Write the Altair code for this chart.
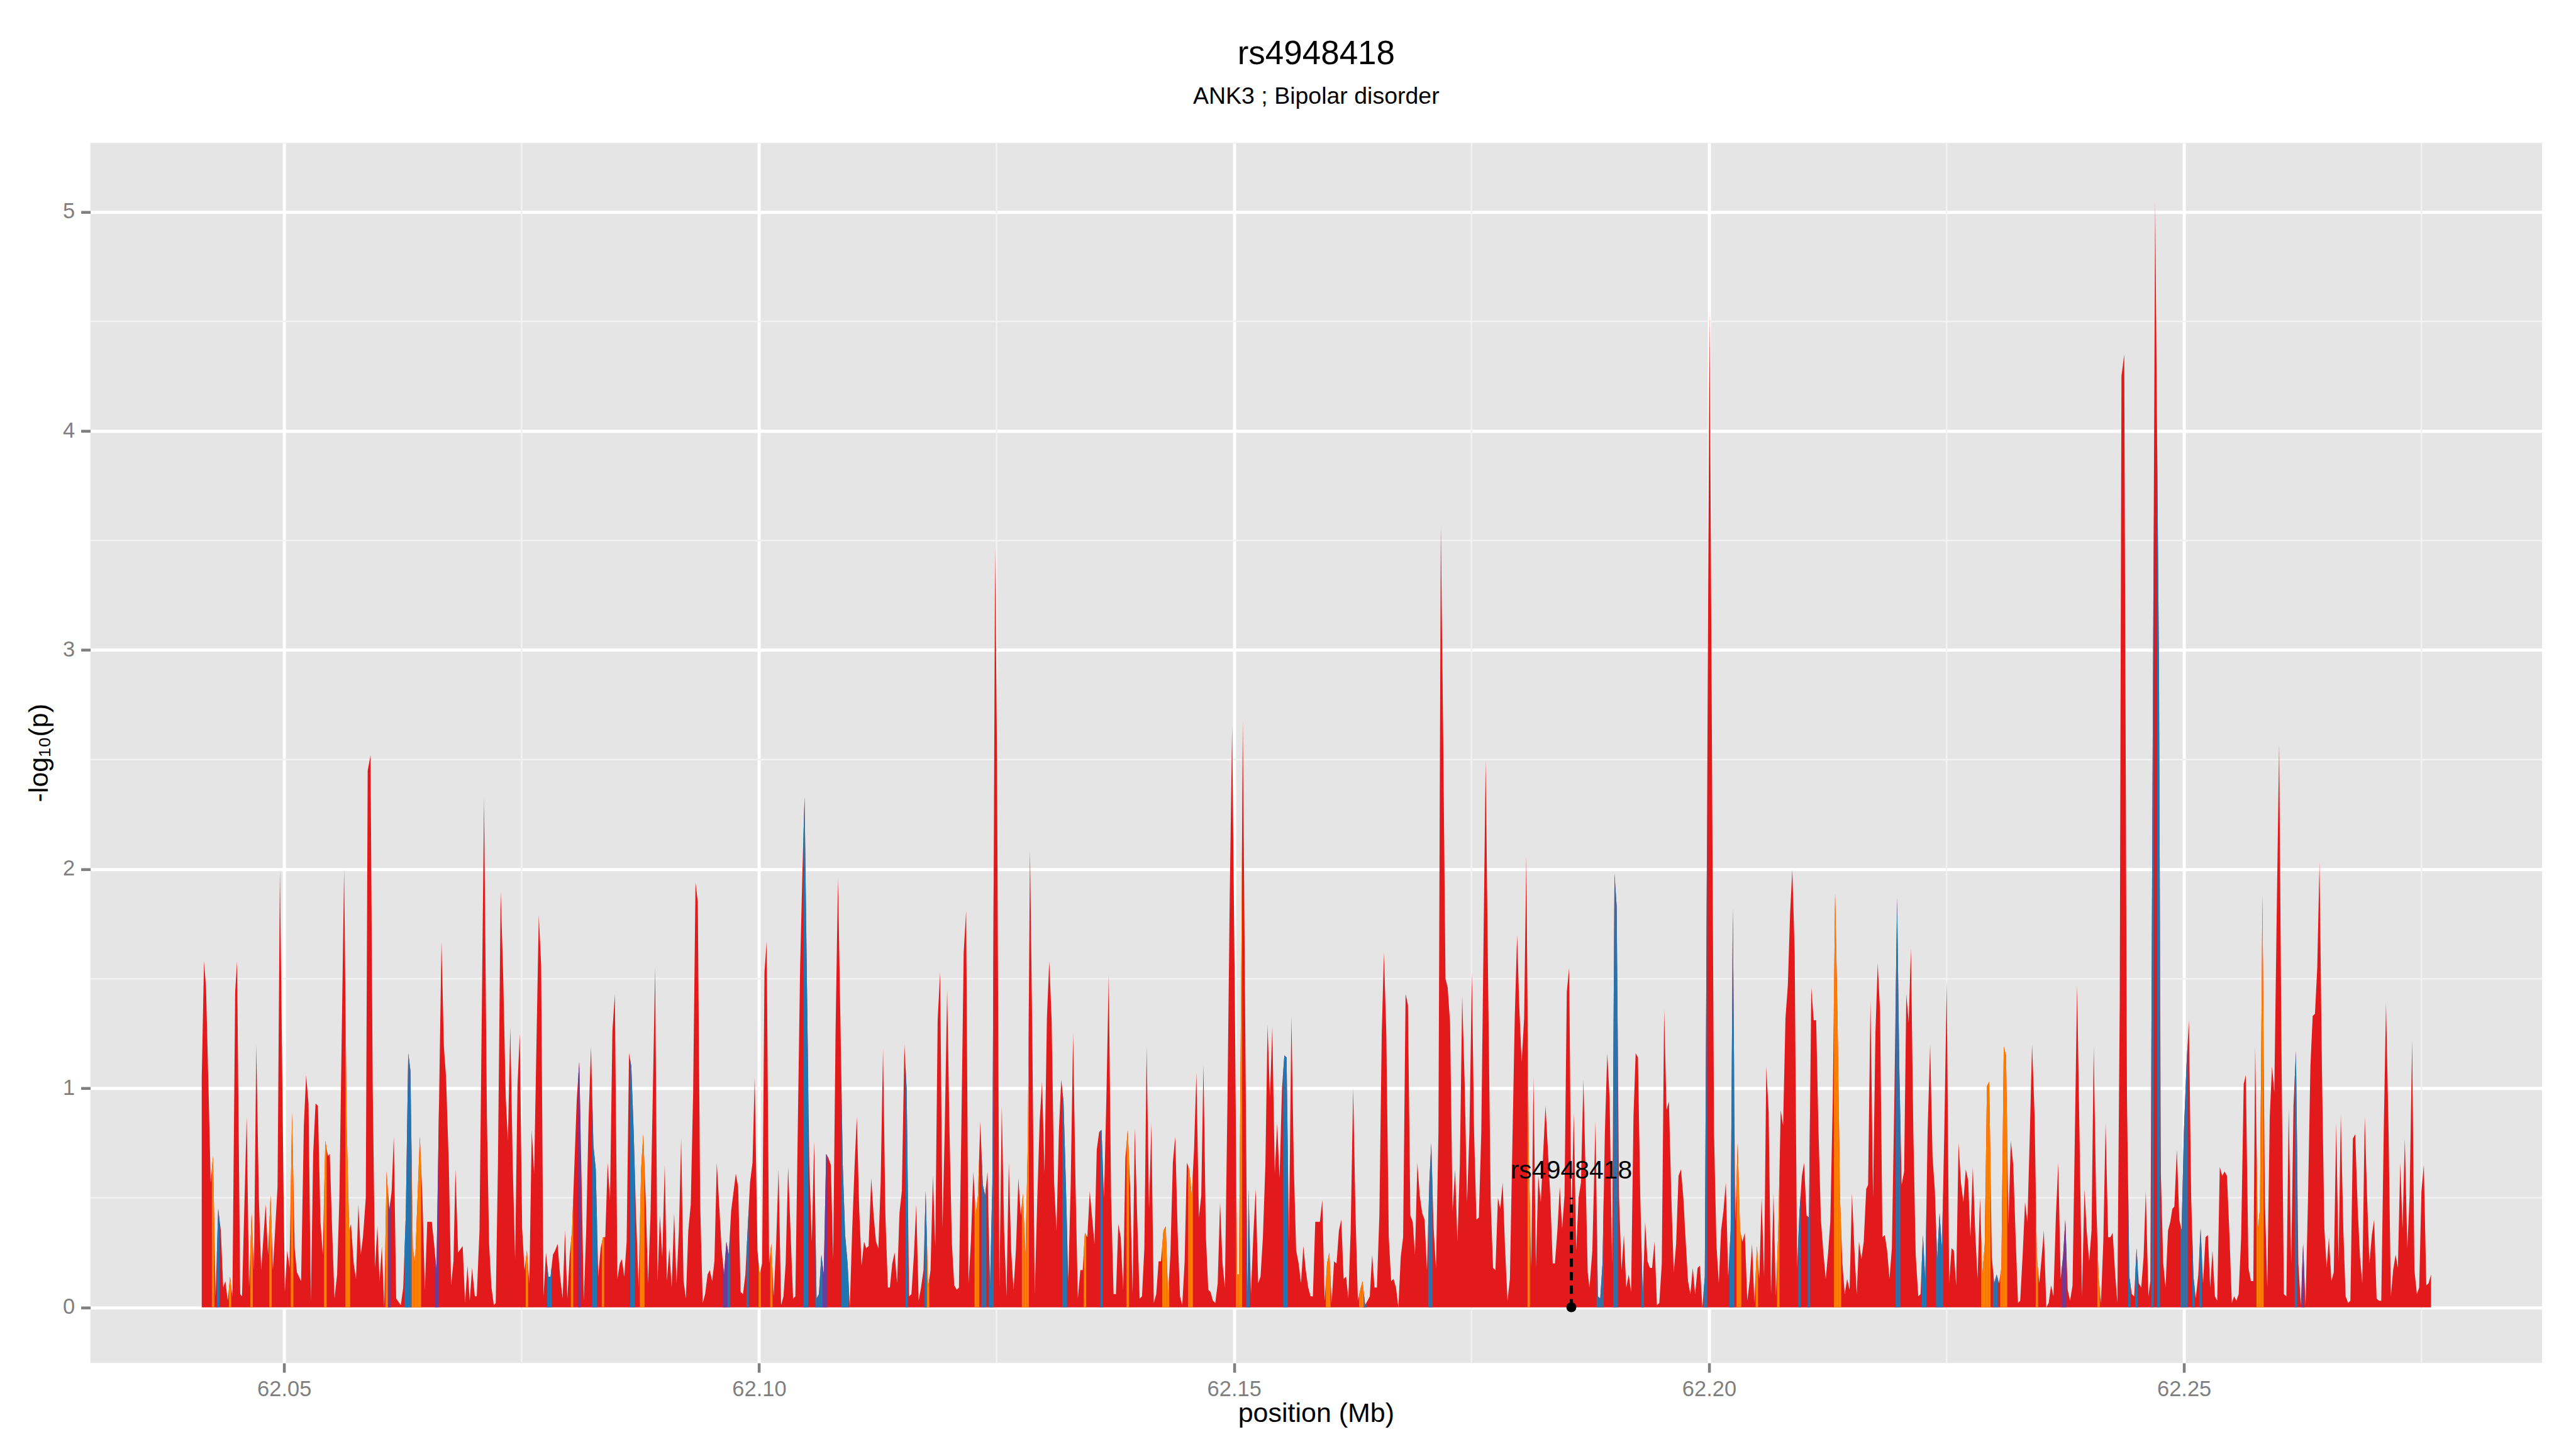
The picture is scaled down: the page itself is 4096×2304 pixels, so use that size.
import altair as alt
import pandas as pd

FONT = "Liberation Sans, Arial, Helvetica, sans-serif"

# ---------------- data (positions in kb above 62.000 Mb, values -log10 p) ----------------
pos_kb_a = [41.33, 41.57, 41.78, 42.07, 42.27, 42.52, 42.79, 43.06, 43.34, 43.59,
            43.82, 44.07, 44.31, 44.56, 44.85, 45.05, 45.38, 45.57, 46.06, 46.31,
            46.58, 46.83, 47.07, 47.34, 47.59, 48.06, 48.31, 48.58, 48.82, 49.31,
            49.56, 49.95, 50.08, 50.33, 50.57, 50.84, 51.11, 51.35, 51.79, 52.08,
            52.32, 52.57, 52.82, 53.06, 53.31, 53.56, 53.83, 54.07, 54.34, 54.61,
            54.81, 55.06, 55.31, 55.58, 55.82, 56.32, 56.59, 56.85, 57.04, 57.33,
            57.57, 57.82, 58.07, 58.30, 58.60, 58.80, 59.10, 59.33, 59.57, 59.82,
            60.05, 60.29, 60.54, 60.79, 61.07, 61.32, 61.55, 61.80, 62.29, 62.54,
            62.81, 63.07, 63.30, 63.55, 63.79, 64.29, 64.56, 64.82, 65.07, 65.30,
            65.55, 65.79, 66.04, 66.57, 66.82, 67.05, 67.34, 67.58, 67.83, 68.04,
            68.32, 68.80, 69.05, 69.31, 69.54]
logp_a = [1.05, 1.58, 1.46, 0.95, 0.57, 0.69, 0.05, 0.45, 0.35, 0.09,
          0.12, 0.03, 0.14, 0.05, 1.44, 1.58, 0.06, 0.05, 0.87, 0.09,
          0.43, 0.17, 1.20, 0.50, 0.17, 0.47, 0.24, 0.51, 0.17, 0.55,
          2.00, 0.50, 0.07, 0.26, 0.18, 0.89, 0.27, 0.16, 0.12, 0.83,
          1.06, 0.93, 0.03, 0.70, 0.93, 0.92, 0.39, 0.24, 0.76, 0.69,
          0.70, 0.35, 0.04, 0.15, 0.50, 2.00, 0.83, 0.35, 0.38, 0.20,
          0.13, 0.47, 0.24, 0.32, 0.50, 2.45, 2.52, 1.00, 0.18, 0.37,
          0.12, 0.28, 0.00, 0.62, 0.44, 0.53, 0.78, 0.04, 0.01, 0.09,
          0.42, 1.16, 1.08, 0.27, 0.20, 0.78, 0.50, 0.08, 0.39, 0.39,
          0.39, 0.29, 0.17, 1.67, 1.19, 1.05, 0.65, 0.10, 0.21, 0.63,
          0.25, 0.28, 0.02, 0.19, 0.03]

pos_kb_b = [69.79, 70.08, 70.28, 70.57, 71.05, 71.35, 71.58, 71.83, 72.08, 72.28,
            72.51, 72.80, 73.06, 73.33, 73.56, 73.81, 74.07, 74.32, 74.57, 74.81,
            75.06, 75.31, 75.56, 75.82, 76.07, 76.32, 76.81, 77.06, 77.31, 77.57,
            77.82, 78.05, 78.30, 78.54, 78.79, 79.06, 79.32, 79.57, 79.82, 80.07,
            80.31, 80.56, 80.81, 81.07, 81.32, 81.55, 81.80, 82.06, 82.31, 82.56,
            82.81, 83.07, 83.32, 83.57, 83.81, 84.06, 84.31, 84.56, 84.82, 85.09,
            85.34, 85.56, 85.81, 86.06, 86.31, 86.55, 86.80, 87.05, 87.32, 87.58,
            87.81, 88.06, 88.32, 88.57, 88.82, 89.06, 89.31, 89.56, 89.81, 90.07,
            90.30, 90.55, 90.80, 91.06, 91.31, 91.56, 91.80, 92.05, 92.30, 92.55,
            92.81, 93.06, 93.31, 93.55, 93.80, 94.07, 94.32, 94.58, 94.81, 95.06,
            95.30, 95.55, 95.80, 96.05, 96.31, 96.56, 96.81, 97.06, 97.55, 97.80,
            98.06, 98.31, 98.56, 98.79, 99.05]
logp_b = [0.18, 0.05, 0.05, 0.35, 2.33, 0.87, 0.29, 0.09, 0.01, 0.02,
          0.65, 1.90, 1.52, 0.96, 0.76, 1.28, 0.65, 0.22, 1.01, 1.25,
          0.36, 0.17, 0.26, 0.11, 0.81, 0.61, 1.79, 1.56, 0.05, 0.25,
          0.14, 0.14, 0.24, 0.26, 0.29, 0.14, 0.04, 0.35, 0.04, 0.24,
          0.35, 0.65, 0.95, 1.12, 0.57, 0.03, 0.35, 0.87, 1.19, 0.74,
          0.63, 0.14, 0.27, 0.32, 0.32, 0.66, 0.49, 1.26, 1.43, 0.13,
          0.20, 0.22, 0.14, 0.30, 1.16, 1.10, 0.80, 0.42, 0.09, 0.63,
          0.79, 0.50, 0.11, 0.42, 0.99, 1.55, 0.12, 0.42, 0.23, 0.65,
          0.12, 0.27, 0.09, 0.43, 0.11, 0.35, 0.77, 0.12, 0.04, 0.35,
          0.47, 0.98, 1.94, 1.85, 0.47, 0.02, 0.06, 0.15, 0.17, 0.12,
          0.21, 0.66, 0.47, 0.27, 0.15, 0.30, 0.24, 0.44, 0.61, 0.55,
          0.07, 0.06, 0.15, 0.35, 0.57]

pos_kb_c = [99.31, 99.54, 99.83, 100.06, 100.32, 100.57, 100.80, 101.06, 101.29, 101.54,
            101.79, 102.05, 102.32, 102.57, 102.80, 103.06, 103.31, 103.58, 103.82, 104.07,
            104.32, 104.57, 104.79, 105.04, 105.29, 105.55, 105.80, 106.05, 106.30, 106.56,
            106.81, 107.06, 107.31, 107.55, 107.80, 108.05, 108.31, 108.56, 108.81, 109.06,
            109.32, 109.55, 109.80, 110.06, 110.29, 110.54, 110.79, 111.05, 111.28, 111.53,
            111.81, 112.06, 112.31, 112.56, 112.80, 113.05, 113.30, 113.56, 113.77, 114.02,
            114.27, 114.53, 114.78, 115.03, 115.30, 115.54, 115.79, 116.04, 116.30, 116.55,
            116.80, 117.05, 117.31, 117.54, 117.79, 118.05, 118.30, 118.55, 118.80, 119.06,
            119.31, 119.54, 119.80, 120.05, 120.30, 120.55, 120.81, 121.04, 121.29, 121.54,
            121.80, 122.05, 122.30, 122.56, 122.81, 123.04, 123.29, 123.55, 123.80, 124.05,
            124.31, 124.56, 124.85, 125.05, 125.30, 125.55, 125.80, 126.05, 126.29, 126.54,
            126.79, 127.05, 127.30, 127.55, 127.78, 128.04, 128.29, 128.52]
logp_c = [0.66, 1.05, 0.26, 0.15, 0.20, 1.53, 1.67, 0.20, 0.29, 0.05,
          0.28, 0.63, 0.01, 0.05, 0.20, 0.64, 0.35, 0.04, 0.05, 0.80,
          1.55, 2.00, 2.33, 1.47, 0.65, 0.30, 0.76, 0.04, 0.06, 0.24,
          0.15, 0.70, 0.68, 0.65, 0.22, 1.25, 1.96, 1.32, 0.65, 0.33,
          0.20, 0.00, 0.35, 0.65, 0.87, 0.45, 0.19, 0.30, 0.27, 0.28,
          0.59, 0.42, 0.30, 0.27, 0.57, 1.18, 0.42, 0.09, 0.09, 0.20,
          0.25, 0.11, 0.43, 0.53, 1.20, 0.99, 0.05, 0.06, 0.24, 0.47,
          0.03, 0.09, 0.17, 0.53, 0.09, 0.17, 0.60, 0.28, 1.31, 1.53,
          0.36, 0.80, 1.45, 0.80, 0.29, 0.10, 0.08, 0.09, 0.80, 1.62,
          1.81, 0.11, 0.30, 0.62, 0.42, 0.51, 0.85, 0.56, 0.51, 0.62,
          0.09, 0.57, 3.47, 2.50, 0.09, 0.92, 0.35, 0.05, 0.66, 0.26,
          0.08, 0.27, 0.59, 0.42, 0.52, 0.23, 0.75, 2.09]

pos_kb_d = [128.76, 129.02, 129.29, 129.54, 129.79, 130.05, 130.30, 130.55, 130.80, 131.06,
            131.31, 131.56, 131.81, 132.05, 132.30, 132.55, 132.81, 133.06, 133.31, 133.56,
            133.82, 134.07, 134.30, 134.56, 134.81, 135.06, 135.31, 135.55, 135.80, 136.05,
            136.31, 136.56, 136.81, 137.06, 137.32, 137.57, 137.82, 138.07, 138.33, 138.56,
            138.81, 139.07, 139.32, 139.55, 139.80, 140.06, 140.31, 140.56, 140.80, 141.05,
            141.30, 141.55, 141.81, 142.06, 142.31, 142.57, 142.82, 143.05, 143.30, 143.56,
            143.81, 144.06, 144.31, 144.55, 144.80, 145.03, 145.29, 145.54, 145.79, 146.04,
            146.30, 146.55, 146.78, 147.04, 147.29, 147.52, 147.78, 148.03, 148.28, 148.53,
            148.79, 149.04, 149.31, 149.54, 149.80, 150.09, 150.32, 150.52, 150.77, 150.92,
            151.16, 151.41, 151.53, 151.78, 152.03, 152.28, 152.54, 152.79, 153.04, 153.30,
            153.53, 153.78, 154.03, 154.29, 154.54, 154.79, 155.05, 155.30, 155.53, 155.78,
            156.04, 156.29, 156.54, 156.80, 157.05, 157.30, 157.55, 157.81]
logp_d = [1.25, 0.06, 0.50, 0.85, 1.03, 0.61, 1.32, 1.58, 1.31, 0.57,
          0.35, 0.80, 1.04, 0.94, 0.56, 0.12, 0.57, 1.25, 0.57, 0.04,
          0.17, 0.17, 0.34, 0.32, 0.53, 0.41, 0.29, 0.72, 0.80, 0.81,
          0.50, 0.95, 1.52, 0.50, 0.06, 0.06, 0.38, 0.32, 0.08, 0.68,
          0.81, 0.54, 0.06, 0.82, 0.42, 0.04, 0.05, 0.27, 1.19, 0.45,
          0.84, 0.02, 0.06, 0.21, 0.21, 0.35, 0.37, 0.05, 0.24, 0.66,
          0.78, 0.35, 0.05, 0.01, 0.21, 0.66, 0.63, 0.51, 0.72, 1.07,
          0.41, 0.51, 1.11, 0.32, 0.08, 0.07, 0.03, 0.02, 0.11, 0.48,
          0.20, 0.09, 0.95, 1.85, 2.65, 1.40, 0.15, 0.15, 1.60, 2.68,
          1.40, 0.03, 0.54, 0.06, 0.33, 0.54, 0.11, 0.14, 0.32, 0.65,
          1.29, 0.96, 1.28, 0.61, 0.84, 0.59, 1.00, 1.15, 1.14, 0.30,
          1.33, 0.65, 0.26, 0.20, 0.11, 0.28, 0.17, 0.09]

pos_kb_e = [158.06, 158.30, 158.55, 158.80, 159.04, 159.29, 159.54, 159.79, 160.03, 160.28,
            160.53, 160.79, 161.04, 161.29, 161.54, 161.80, 162.03, 162.28, 162.54, 162.79,
            163.04, 163.29, 163.53, 163.80, 164.05, 164.29, 164.54, 164.79, 165.04, 165.30,
            165.55, 165.78, 166.03, 166.29, 166.54, 166.79, 167.05, 167.30, 167.55, 167.80,
            168.06, 168.31, 168.56, 168.81, 169.05, 169.30, 169.55, 169.81, 170.06, 170.31,
            170.56, 170.76, 171.01, 171.26, 171.52, 171.77, 172.02, 172.26, 172.49, 172.74,
            173.01, 173.27, 173.52, 173.77, 174.02, 174.28, 174.53, 174.78, 175.04, 175.27,
            175.52, 175.77, 176.03, 176.49, 176.73, 177.02, 177.27, 177.52, 177.78, 178.03,
            178.28, 178.53, 178.79, 179.04, 179.29, 179.55, 179.80, 180.03, 180.28, 180.54,
            180.77, 181.02, 181.28, 181.53, 181.78, 182.03, 182.29, 182.79, 183.04, 183.30,
            183.55, 183.78, 184.04, 184.29, 184.54, 184.79, 185.03, 185.28, 185.51, 185.77,
            186.02, 186.27, 186.52, 186.78, 187.03]
logp_e = [0.05, 0.05, 0.39, 0.39, 0.39, 0.49, 0.03, 0.20, 0.25, 0.02,
          0.21, 0.20, 0.35, 0.40, 0.13, 0.14, 0.04, 0.35, 1.00, 0.42,
          0.03, 0.08, 0.12, 0.01, 0.03, 0.05, 0.24, 0.09, 0.09, 0.42,
          1.25, 1.62, 1.25, 0.32, 0.12, 0.13, 0.09, 0.00, 0.23, 0.32,
          1.43, 1.38, 0.42, 0.39, 0.24, 0.66, 0.51, 0.43, 0.40, 0.17,
          0.57, 0.75, 0.36, 0.18, 0.80, 3.57, 2.60, 1.50, 1.46, 1.30,
          0.44, 0.63, 0.30, 0.65, 1.42, 1.02, 0.48, 0.80, 1.53, 0.80,
          0.40, 0.41, 0.80, 2.50, 1.55, 0.48, 0.18, 0.17, 0.50, 0.45,
          0.57, 0.27, 0.03, 0.13, 0.72, 1.32, 1.70, 1.37, 1.12, 1.32,
          2.06, 0.72, 0.18, 1.05, 0.18, 0.60, 0.48, 0.92, 0.72, 0.50,
          0.20, 0.20, 0.35, 0.55, 0.36, 0.51, 1.44, 1.55, 0.40, 0.89,
          0.26, 0.50, 0.57, 1.04, 0.57]

pos_kb_f = [187.23, 187.42, 187.72, 188.05, 188.30, 188.55, 188.79, 189.04, 189.29, 189.54,
            189.80, 190.05, 190.28, 190.53, 190.79, 191.04, 191.29, 191.55, 191.80, 192.05,
            192.28, 192.52, 192.77, 193.02, 193.28, 193.53, 193.78, 194.01, 194.27, 194.52,
            194.77, 195.03, 195.28, 195.53, 195.78, 196.04, 196.29, 196.54, 196.79, 197.05,
            197.30, 197.55, 197.79, 198.04, 198.29, 198.54, 198.80, 199.05, 199.30, 199.56,
            200.06, 200.53, 200.78, 201.03, 201.27, 201.52, 201.77, 202.02, 202.28, 202.51,
            202.76, 203.02, 203.27, 203.52, 203.77, 204.03, 204.28, 204.53, 204.78, 205.04,
            205.29, 205.54, 205.80, 206.03, 206.28, 206.53, 206.79, 207.04, 207.29, 207.55,
            207.80, 208.05, 208.30, 208.54, 208.77, 209.02, 209.27, 209.53, 209.78, 210.01,
            210.27, 210.52, 210.77, 211.02, 211.28, 211.53, 211.78, 212.04, 212.29, 212.54,
            212.77, 213.03, 213.28, 213.53, 213.79, 214.04, 214.29, 214.54, 214.80, 215.05,
            215.30, 215.55, 215.79, 216.04, 216.29, 216.55]
logp_f = [0.16, 0.09, 0.26, 0.85, 0.05, 0.04, 0.20, 0.80, 1.16, 0.95,
          0.20, 1.98, 1.83, 0.50, 0.17, 0.33, 0.09, 0.15, 0.07, 0.87,
          1.16, 1.14, 0.50, 0.05, 0.39, 0.21, 0.18, 0.18, 0.30, 0.01,
          0.02, 0.20, 1.36, 0.90, 0.94, 0.50, 0.16, 0.29, 0.60, 0.63,
          0.50, 0.30, 0.12, 0.06, 0.18, 0.06, 0.18, 0.19, 0.00, 0.14,
          4.55, 0.80, 0.29, 0.11, 0.35, 0.44, 0.57, 0.14, 0.35, 1.82,
          0.39, 0.75, 0.35, 0.30, 0.34, 0.03, 0.12, 0.29, 0.02, 0.28,
          0.13, 0.50, 0.14, 1.10, 0.89, 0.06, 0.52, 0.05, 0.35, 0.90,
          0.83, 1.32, 1.47, 1.80, 2.00, 1.62, 0.18, 0.44, 0.60, 0.66,
          0.42, 0.41, 1.46, 1.31, 1.31, 0.80, 0.40, 0.25, 0.13, 0.25,
          0.39, 0.95, 1.89, 1.32, 0.50, 0.20, 0.06, 0.13, 0.08, 0.52,
          0.27, 0.06, 0.30, 0.22, 0.30, 0.54]

pos_kb_g = [216.75, 217.00, 217.27, 217.52, 217.76, 218.01, 218.26, 218.51, 218.75, 219.00,
            219.25, 219.51, 219.80, 220.03, 220.28, 220.54, 220.77, 221.02, 221.26, 221.51,
            221.76, 222.03, 222.27, 222.52, 222.77, 223.01, 223.28, 223.53, 223.78, 224.02,
            224.27, 224.52, 224.77, 225.03, 225.28, 225.53, 225.77, 226.02, 226.27, 226.52,
            226.78, 227.03, 227.28, 227.52, 227.77, 228.02, 228.27, 228.53, 228.78, 229.03,
            229.26, 229.50, 229.77, 230.02, 230.28, 230.53, 230.78, 231.03, 231.27, 231.52,
            231.77, 232.03, 232.28, 232.53, 232.76, 233.02, 233.27, 233.52, 233.78, 234.01,
            234.28, 234.51, 234.77, 235.02, 235.25, 235.51, 235.76, 236.01, 236.26, 236.52,
            236.77, 237.02, 237.27, 237.51, 237.76, 238.01, 238.27, 238.52, 238.75, 239.00,
            239.26, 239.53, 239.76, 240.02, 240.27, 240.50, 240.75, 241.01, 241.26, 241.51,
            241.75, 242.02, 242.25, 242.50, 242.76, 242.99, 243.24, 243.42, 243.71, 244.00,
            244.25, 244.51, 244.76, 245.01, 245.24, 245.50, 245.75, 245.98]
logp_g = [0.56, 1.40, 0.50, 1.25, 1.57, 1.35, 0.32, 0.33, 0.26, 0.13,
          0.27, 0.95, 1.87, 1.10, 0.56, 0.62, 1.43, 1.30, 1.64, 0.80,
          0.24, 0.05, 0.06, 0.33, 0.12, 0.80, 1.20, 0.69, 0.53, 0.22,
          0.43, 0.27, 0.80, 1.49, 0.11, 0.27, 0.26, 0.10, 0.75, 0.57,
          0.48, 0.63, 0.58, 0.32, 0.64, 0.35, 0.13, 0.50, 0.15, 0.29,
          1.01, 1.03, 0.23, 0.11, 0.15, 0.11, 0.18, 1.19, 1.15, 0.38,
          0.76, 0.65, 0.32, 0.02, 0.03, 0.24, 0.48, 0.39, 0.80, 1.20,
          0.87, 0.23, 0.11, 0.23, 0.35, 0.00, 0.02, 0.10, 0.05, 0.42,
          0.66, 0.13, 0.23, 0.40, 0.08, 0.03, 0.10, 0.80, 1.47, 0.80,
          0.05, 0.54, 0.35, 0.21, 0.35, 1.19, 0.50, 0.14, 0.02, 0.30,
          0.84, 0.32, 0.32, 0.34, 0.15, 0.02, 1.40, 4.25, 4.35, 0.95,
          0.14, 0.06, 0.05, 0.27, 0.11, 0.09, 0.23, 0.53]

pos_kb_h = [246.26, 246.46, 246.67, 246.97, 247.37, 247.57, 247.82, 248.06, 248.32, 248.56,
            248.78, 248.99, 249.25, 249.51, 249.75, 249.99, 250.26, 250.52, 250.76, 251.00,
            251.24, 251.51, 251.75, 252.01, 252.27, 252.52, 252.76, 253.00, 253.26, 253.50,
            253.77, 254.03, 254.27, 254.53, 254.77, 255.04, 255.28, 255.52, 255.76, 256.02,
            256.29, 256.51, 256.79, 257.05, 257.30, 257.50, 257.76, 258.00, 258.26, 258.51,
            258.77, 259.03, 259.27, 259.51, 259.78, 260.02, 260.28, 260.52, 260.78, 261.03,
            261.29, 261.53, 261.79, 262.04, 262.30, 262.54, 262.80, 263.06, 263.31, 263.55,
            263.79, 264.03, 264.27, 264.52, 264.78, 265.02, 265.26, 265.52, 265.77, 266.03,
            266.27, 266.51, 266.78, 267.02, 267.28, 267.52, 267.78, 268.03, 268.29, 268.53,
            268.77, 269.03, 269.28, 269.52, 269.78, 270.02, 270.28, 270.53, 270.77, 271.03,
            271.27, 271.54, 271.78, 272.02, 272.28, 272.52, 272.77, 273.01, 273.25, 273.51,
            273.75, 274.02, 274.26, 274.52, 274.76, 275.00, 275.25, 275.51, 275.75, 276.01]
logp_h = [0.05, 0.12, 2.20, 5.05, 2.90, 0.60, 0.20, 0.09, 0.35, 0.39,
          0.45, 0.46, 0.72, 0.40, 0.35, 0.80, 1.10, 1.31, 0.50, 0.14,
          0.04, 0.15, 0.36, 0.11, 0.32, 0.33, 0.09, 0.26, 0.05, 0.03,
          0.64, 0.60, 0.62, 0.60, 0.35, 0.02, 0.05, 0.03, 0.06, 0.32,
          1.02, 1.06, 0.18, 0.12, 0.12, 1.19, 0.35, 0.45, 1.88, 0.50,
          0.09, 0.87, 1.10, 0.98, 1.85, 2.57, 1.10, 0.06, 0.05, 0.91,
          0.20, 0.92, 1.17, 0.20, 0.01, 0.29, 0.01, 0.50, 1.10, 1.33,
          1.34, 1.55, 2.03, 1.10, 0.36, 0.18, 0.32, 0.12, 0.16, 0.84,
          0.21, 0.88, 0.35, 0.05, 0.02, 0.03, 0.77, 0.79, 0.45, 0.23,
          0.11, 0.87, 0.50, 0.20, 0.33, 0.40, 0.04, 0.03, 0.03, 0.80,
          1.39, 0.80, 0.05, 0.17, 0.24, 0.18, 0.66, 0.36, 0.77, 0.27,
          0.50, 1.22, 0.17, 0.06, 0.09, 0.53, 0.65, 0.10, 0.11, 0.15]

# SNPs whose LD class is not the default (red) one
orange_kb = [42.52, 44.31, 46.58, 48.58, 50.84, 54.34, 56.59, 56.85, 60.79, 63.55, 63.79, 64.29,
             75.56, 80.31, 83.57, 87.58, 87.81, 100.06, 101.29, 117.79, 122.81, 123.04,
             127.78, 128.04, 128.29, 134.30, 138.81, 142.57, 142.82, 143.05, 145.29, 145.54,
             150.32, 150.52, 150.77, 159.79, 160.03, 163.29, 163.53, 181.02, 203.02, 203.27,
             205.04, 207.29, 213.28, 213.53, 213.79, 228.78, 229.03, 229.26, 229.50, 230.78,
             231.03, 231.27, 234.51, 241.01, 257.76, 258.00, 258.26]
blue_kb = [43.06, 62.81, 63.07, 63.30, 77.82, 78.05, 82.56, 82.81, 86.55, 86.80, 96.81, 98.79,
           104.79, 105.04, 106.05, 106.30, 106.56, 108.81, 109.06, 109.32, 115.54, 117.54,
           123.55, 123.80, 124.31, 124.56, 132.05, 132.30, 136.05, 151.41, 151.53, 155.30,
           155.53, 163.80, 170.56, 170.76, 188.30, 188.55, 188.79, 190.05, 190.28, 193.02,
           199.56, 202.28, 202.51, 209.53, 210.52, 219.80, 220.03, 222.52, 222.77, 224.02,
           224.27, 224.52, 230.02, 230.28, 244.25, 245.01, 246.67, 247.37, 249.75, 249.99,
           250.26, 251.00, 251.75, 261.79]
purple_kb = [61.07, 66.04, 81.07, 96.31, 96.56, 106.81, 107.06, 237.27, 237.51, 262.54]

category_names = ["red", "orange", "blue", "purple"]
category_colors = ["#E31A1C", "#FF7F00", "#1F78B4", "#6A3D9A"]

x_tick_values = [62.05, 62.10, 62.15, 62.20, 62.25]
x_minor_values = [62.075, 62.125, 62.175, 62.225, 62.275]
y_tick_values = [0, 1, 2, 3, 4, 5]
y_minor_values = [0.5, 1.5, 2.5, 3.5, 4.5]
x_domain = [62.0296, 62.2877]
y_domain = [-0.254, 5.315]

index_snp = "rs4948418"
index_kb = 185.51
index_line_top = 0.50
index_label_y = 0.588

title_text = "rs4948418"
subtitle_text = "ANK3 ; Bipolar disorder"
x_title_text = "position (Mb)"
y_title_text = "-log\u2081\u2080(p)"

# ---------------- assemble ----------------
pos_kb = pos_kb_a + pos_kb_b + pos_kb_c + pos_kb_d + pos_kb_e + pos_kb_f + pos_kb_g + pos_kb_h
logp = logp_a + logp_b + logp_c + logp_d + logp_e + logp_f + logp_g + logp_h
parts = [(pos_kb_a, logp_a), (pos_kb_b, logp_b), (pos_kb_c, logp_c), (pos_kb_d, logp_d),
         (pos_kb_e, logp_e), (pos_kb_f, logp_f), (pos_kb_g, logp_g), (pos_kb_h, logp_h)]
for j, (a, b) in enumerate(parts):
    if len(a) != len(b):
        raise ValueError(f"part {j}: {len(a)} positions vs {len(b)} values")
for i in range(1, len(pos_kb)):
    if pos_kb[i] <= pos_kb[i - 1]:
        raise ValueError(f"not increasing at {pos_kb[i]}")

cat_of = {}
for k in orange_kb:
    cat_of[round(k, 2)] = "orange"
for k in blue_kb:
    cat_of[round(k, 2)] = "blue"
for k in purple_kb:
    cat_of[round(k, 2)] = "purple"
known = set(round(k, 2) for k in pos_kb)
missing = [k for k in cat_of if k not in known]
if missing:
    raise ValueError(f"colored SNPs not found: {missing}")

pos_mb = [62.0 + k / 1000.0 for k in pos_kb]
cats = [cat_of.get(round(k, 2), "red") for k in pos_kb]
snps = pd.DataFrame({"pos": pos_mb, "p": logp, "cat": cats})

seg_rows = []
n = len(pos_mb)
for i in range(n):
    c = cats[i]
    if c == "red":
        continue
    if i > 0:
        seg_rows.append(dict(pos=(pos_mb[i - 1] + pos_mb[i]) / 2, p=(logp[i - 1] + logp[i]) / 2, seg=i, cat=c))
    seg_rows.append(dict(pos=pos_mb[i], p=logp[i], seg=i, cat=c))
    if i < n - 1:
        seg_rows.append(dict(pos=(pos_mb[i] + pos_mb[i + 1]) / 2, p=(logp[i] + logp[i + 1]) / 2, seg=i, cat=c))
segs = pd.DataFrame(seg_rows)

# ---------------- layout (target pixels) ----------------
W = 3898.5
H = 1940.0
GRID_MAJOR = 5.0
GRID_MINOR = 2.5
GREY = "#7F7F7F"

xs = alt.Scale(domain=x_domain, nice=False, zero=False)
ys = alt.Scale(domain=y_domain, nice=False, zero=False)

x_axis = alt.Axis(values=x_tick_values, format=".2f", title=None, grid=True, gridColor="#FFFFFF",
                  gridWidth=GRID_MAJOR, gridOpacity=1, domain=False, ticks=True, tickColor=GREY,
                  tickWidth=4.5, tickSize=15, labelColor=GREY, labelFont=FONT, labelFontSize=34.5,
                  labelPadding=10, labelFlush=False, labelOverlap=False)
y_axis = alt.Axis(values=y_tick_values, format="d", title=None, grid=True, gridColor="#FFFFFF",
                  gridWidth=GRID_MAJOR, gridOpacity=1, domain=False, ticks=True, tickColor=GREY,
                  tickWidth=4.5, tickSize=15, labelColor=GREY, labelFont=FONT, labelFontSize=34.5,
                  labelPadding=10, labelFlush=False, labelOverlap=False)


def X(field):
    return alt.X(field, scale=xs, axis=x_axis)


def Y(field, **kw):
    return alt.Y(field, scale=ys, axis=y_axis, **kw)


minor_x = alt.Chart(pd.DataFrame({"v": x_minor_values})).mark_rule(
    color="#F2F2F2", strokeWidth=GRID_MINOR).encode(x=X("v:Q"))
minor_y = alt.Chart(pd.DataFrame({"v": y_minor_values})).mark_rule(
    color="#F2F2F2", strokeWidth=GRID_MINOR).encode(y=Y("v:Q"))

red_area = alt.Chart(snps).mark_area(color=category_colors[0], interpolate="linear", opacity=1).encode(
    x=X("pos:Q"),
    y=Y("p:Q", stack=None),
    y2=alt.datum(0),
)

colored = alt.Chart(segs).mark_area(interpolate="linear", opacity=1).encode(
    x=X("pos:Q"),
    y=Y("p:Q", stack=None),
    y2=alt.datum(0),
    detail="seg:N",
    color=alt.Color("cat:N", scale=alt.Scale(domain=category_names, range=category_colors), legend=None),
)

idx_df = pd.DataFrame({"pos": [62.0 + index_kb / 1000.0], "y0": [0.0], "y1": [index_line_top],
                       "ly": [index_label_y], "label": [index_snp]})
idx_rule = alt.Chart(idx_df).mark_rule(color="black", strokeWidth=5, strokeDash=[13, 8.5]).encode(
    x=X("pos:Q"), y=Y("y0:Q"), y2="y1:Q")
idx_dot = alt.Chart(idx_df).mark_circle(color="black", size=250, opacity=1).encode(
    x=X("pos:Q"), y=Y("y0:Q"))
idx_label = alt.Chart(idx_df).mark_text(color="black", font=FONT, fontSize=41, align="center",
                                        baseline="alphabetic").encode(
    x=X("pos:Q"), y=Y("ly:Q"), text="label:N")


def text_layer(txt, x, y, size, angle=0, color="black"):
    kw = dict(color=color, font=FONT, fontSize=size, align="center", baseline="alphabetic")
    if angle:
        kw["angle"] = angle
    return alt.Chart(pd.DataFrame({"t": [txt]})).mark_text(**kw).encode(
        x=alt.value(x), y=alt.value(y), text="t:N")


title_l = text_layer(title_text, W / 2, -125.4, 53)
subtitle_l = text_layer(subtitle_text, W / 2, -62.3, 37.5)
xtitle_l = text_layer(x_title_text, W / 2, H + 94.2, 43)
ytitle_l = text_layer(y_title_text, -67.4, H / 2, 43, angle=270)

chart = alt.layer(
    minor_x, minor_y, red_area, colored, idx_rule, idx_dot, idx_label,
    title_l, subtitle_l, xtitle_l, ytitle_l,
).properties(
    width=W, height=H,
    autosize=alt.AutoSizeParams(type="none"),
    padding={"left": 135.6, "top": 219.2, "right": 45, "bottom": 128},
).configure_view(fill="#E5E5E5", stroke=None)

chart.save("out.html", embed_options={"renderer": "svg", "actions": False})
